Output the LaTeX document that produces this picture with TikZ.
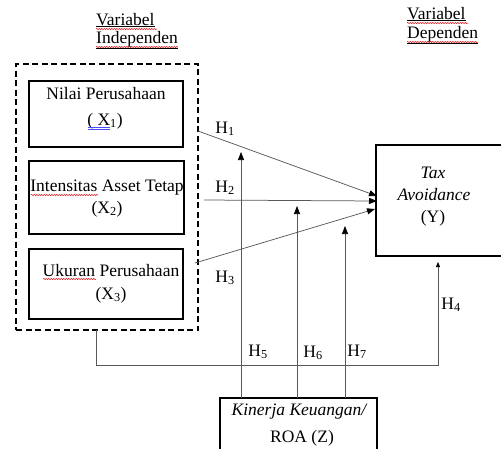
\documentclass[tikz,border=0pt]{standalone}
\usepackage{fontspec}
\setmainfont{Liberation Serif}
\usetikzlibrary{arrows.meta,decorations.pathmorphing}
\begin{document}
\begin{tikzpicture}[x=1pt,y=-1pt,
  txt/.style={inner sep=0pt, anchor=base, font=\fontsize{17.5}{20}\selectfont},
  hdr/.style={inner sep=0pt, anchor=base west, font=\fontsize{17.5}{20}\selectfont},
  boxed/.style={draw, line width=1.2pt, inner sep=0pt, rectangle},
  dashbox/.style={draw, line width=1.2pt, inner sep=0pt, rectangle, dash pattern=on 6pt off 3.5pt},
  conn/.style={draw=black!65, line width=0.75pt},
  arr/.style={conn, -{Triangle[length=8pt,width=6pt,color=black]}},
  arrs/.style={conn, -{Triangle[length=5pt,width=4pt,color=black]}},
  wavy/.style={draw=red!85!black, line width=0.5pt, decorate, decoration={snake, amplitude=0.6pt, segment length=2.5pt}},
  blueul/.style={draw=blue!70, line width=0.5pt}
]
\useasboundingbox (0,0) rectangle (501,448);

% headers
\node[hdr] (vi1) at (96,25) {\underline{Variabel}};
\node[hdr] (vi2) at (96,43) {\underline{Independen}};
\node[hdr] (vd1) at (407,19) {\underline{Variabel}};
\node[hdr] (vd2) at (407,38) {\underline{Dependen}};
\draw[wavy] (96,29) -- (157,29);
\draw[wavy] (96,47) -- (178,47);
\draw[wavy] (407,23) -- (468,23);
\draw[wavy] (407,42) -- (478,42);

% boxes
\node[dashbox, minimum width=182pt, minimum height=266pt] (grp) at (107,197) {};
\node[boxed, minimum width=154pt, minimum height=66pt] (bx1) at (106,114) {};
\node[boxed, minimum width=155pt, minimum height=73pt] (bx2) at (106.5,197.5) {};
\node[boxed, minimum width=154pt, minimum height=70pt] (bx3) at (106,284) {};
\node[boxed, minimum width=127pt, minimum height=111pt] (by) at (439.5,200.5) {};
\node[boxed, minimum width=157pt, minimum height=56pt] (bz) at (298.5,426) {};

% box texts
\node[txt] (t1a) at (106,99) {Nilai Perusahaan};
\node[txt] (t1b) at (105,125) {( X\textsubscript{1})};
\draw[blueul] (88,127) -- (110,127);
\draw[blueul] (88,129) -- (110,129);
\node[txt] (t2a) at (107,191) {Intensitas Asset Tetap};
\node[txt] (t2b) at (107,213) {(X\textsubscript{2})};
\draw[wavy] (31,195) -- (98,195);
\node[txt] (t3a) at (111,276) {Ukuran Perusahaan};
\node[txt] (t3b) at (111,299) {(X\textsubscript{3})};
\draw[wavy] (43,279) -- (96,279);
\node[txt] (tya) at (433,178) {\itshape Tax};
\node[txt] (tyb) at (434,200) {\itshape Avoidance};
\node[txt] (tyc) at (433,222) {(Y)};
\node[txt] (tza) at (299,415) {\itshape Kinerja Keuangan/};
\node[txt] (tzb) at (302,442) {ROA (Z)};

% connector coordinates
\coordinate (s1) at (198,131);
\coordinate (e1) at (377,196);
\coordinate (s2) at (204,200);
\coordinate (e2) at (377,201);
\coordinate (s3) at (195,263);
\coordinate (e3) at (375,209);
\coordinate (z5) at (241,398);
\coordinate (m5) at (241,152);
\coordinate (z6) at (297,398);
\coordinate (m6) at (297,206);
\coordinate (z7) at (345,398);
\coordinate (m7) at (345,226);
\coordinate (g0) at (96,330);
\coordinate (g1) at (96,365);
\coordinate (g2) at (438,365);
\coordinate (y4) at (438,262);

\draw[arr] (s1) -- (e1);
\draw[arr] (s2) -- (e2);
\draw[arr] (s3) -- (e3);
\draw[arr] (z5) -- (m5);
\draw[arr] (z6) -- (m6);
\draw[arr] (z7) -- (m7);
\draw[arrs] (g0) -- (g1) -- (g2) -- (y4);

% hypothesis labels
\node[txt] (h1) at (225,133) {H\textsubscript{1}};
\node[txt] (h2) at (225,192) {H\textsubscript{2}};
\node[txt] (h3) at (225,282) {H\textsubscript{3}};
\node[txt] (h4) at (451,309) {H\textsubscript{4}};
\node[txt] (h5) at (258,356) {H\textsubscript{5}};
\node[txt] (h6) at (313,357) {H\textsubscript{6}};
\node[txt] (h7) at (357,356) {H\textsubscript{7}};
\end{tikzpicture}
\end{document}
